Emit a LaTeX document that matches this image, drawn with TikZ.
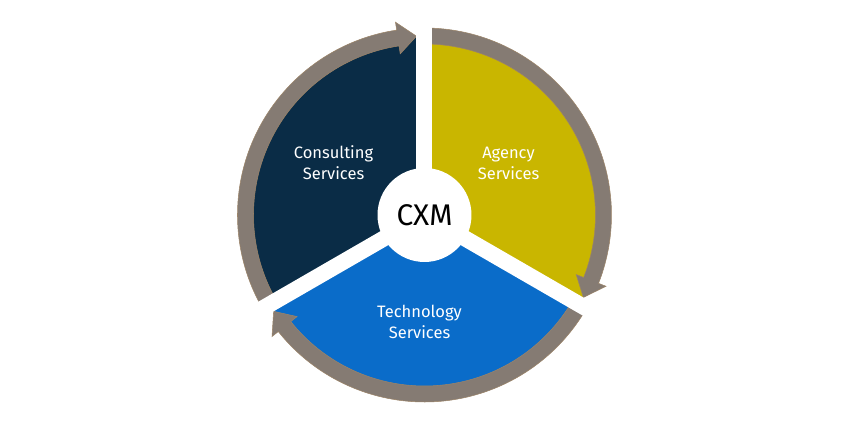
\documentclass[tikz,border=0pt]{standalone}
\usepackage{fontspec}
\setmainfont{Fira Sans}
\definecolor{consultnavy}{HTML}{0A2C46}
\definecolor{agencygold}{HTML}{C9B600}
\definecolor{techblue}{HTML}{0A6CC9}
\definecolor{ringgray}{HTML}{857B73}
\definecolor{ringedge}{HTML}{9C8468}
\tikzset{
  ring/.style={fill=ringgray, draw=ringedge, line width=0.3pt},
  band/.style={white, line width=0.32cm},
  label/.style={text=white, align=center, font=\fontsize{9.4}{12}\selectfont}
}
\begin{document}
\begin{tikzpicture}[x=0.02cm, y=0.02cm]
    \useasboundingbox (-424.5,-210) rectangle (425.5,215);

    % Sectors
    \fill[consultnavy] (0,0) -- (90:179) arc (90:210:179) -- cycle;
    \fill[agencygold] (0,0) -- (-30:179) arc (-30:90:179) -- cycle;
    \fill[techblue] (0,0) -- (210:179) arc (210:330:179) -- cycle;

    % Ring arrows (clockwise)
    \foreach \s/\e in {210/90, 90/-30, 330/210}{
      \draw[ring] (\s:187) arc (\s:\e+8.56:187) -- (\e+8.56:195)
        -- (\e+2.56:179) -- (\e+8.56:163) -- (\e+8.56:171)
        arc (\e+8.56:\s:171) -- cycle;
    }

    % Gaps
    \foreach \a in {90,210,330}{
      \draw[band] (0,0) -- (\a:205);
    }

    % Labels
    \node[circle, fill=white, minimum size=1.88cm, inner sep=0pt,
      font=\fontsize{17}{20}\selectfont] (cxm) at (0,0) {CXM};
    \node[label] (consulting) at (-91,52) {Consulting\\Services};
    \node[label] (agency) at (84,52) {Agency\\Services};
    \node[label] (technology) at (-5,-107) {Technology\\Services};
\end{tikzpicture}
\end{document}
